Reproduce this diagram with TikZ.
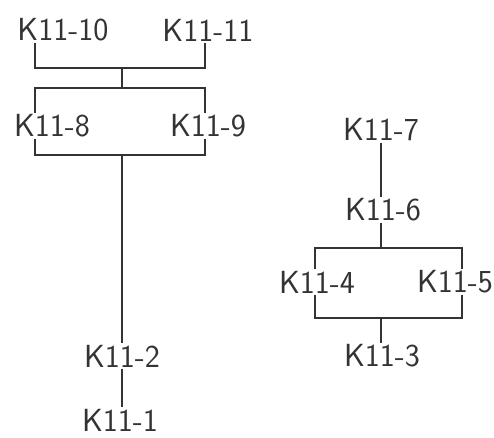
\documentclass[tikz,border=0pt]{standalone}
\usepackage{tikz}
\usetikzlibrary{positioning, calc}

\begin{document}
\begin{tikzpicture}[x=1pt, y=-1pt, line width=1.2pt, draw=black!80,
    lbl/.style={font=\sffamily\fontsize{32}{34}\selectfont, text=black!80, inner sep=1pt}]
  \useasboundingbox (0,0) rectangle (494,437);
  % Left tree
  \node[lbl] (k10) at (63,30) {K11-10};
  \node[lbl] (k11) at (208,30) {K11-11};
  \node[lbl] (k8) at (52,126) {K11-8};
  \node[lbl] (k9) at (208,126) {K11-9};
  \node[lbl] (k2) at (122,356) {K11-2};
  \node[lbl] (k1) at (120,420) {K11-1};
  % Bars under K11-10 / K11-11 and over K11-8 / K11-9
  \coordinate (b1l) at (35,68);  \coordinate (b1r) at (205,68);
  \coordinate (b2l) at (35,88);  \coordinate (b2r) at (205,88);
  \coordinate (b3l) at (35,155); \coordinate (b3r) at (205,155);
  \draw (b1l |- k10.south) -- (b1l) -- (b1r) -- (b1r |- k11.south);
  \draw (122,68) -- (122,88);
  \draw (b2l |- k8.north) -- (b2l) -- (b2r) -- (b2r |- k9.north);
  \draw (b3l |- k8.south) -- (b3l) -- (b3r) -- (b3r |- k9.south);
  \draw (122,155) -- (k2.north);
  \draw (k2.south -| 122,0) -- (k1.north -| 122,0);
  % Right tree
  \node[lbl] (k7) at (381,130) {K11-7};
  \node[lbl] (k6) at (383,210) {K11-6};
  \node[lbl] (k4) at (317,282) {K11-4};
  \node[lbl] (k5) at (455,282) {K11-5};
  \node[lbl] (k3) at (382,356) {K11-3};
  \coordinate (b4l) at (315,248); \coordinate (b4r) at (462,248);
  \coordinate (b5l) at (315,318); \coordinate (b5r) at (462,318);
  \draw (k7.south -| 381,0) -- (k6.north -| 381,0);
  \draw (k6.south -| 381,0) -- (381,248);
  \draw (b4l |- k4.north) -- (b4l) -- (b4r) -- (b4r |- k5.north);
  \draw (b5l |- k4.south) -- (b5l) -- (b5r) -- (b5r |- k5.south);
  \draw (381,318) -- (k3.north -| 381,0);
\end{tikzpicture}
\end{document}
